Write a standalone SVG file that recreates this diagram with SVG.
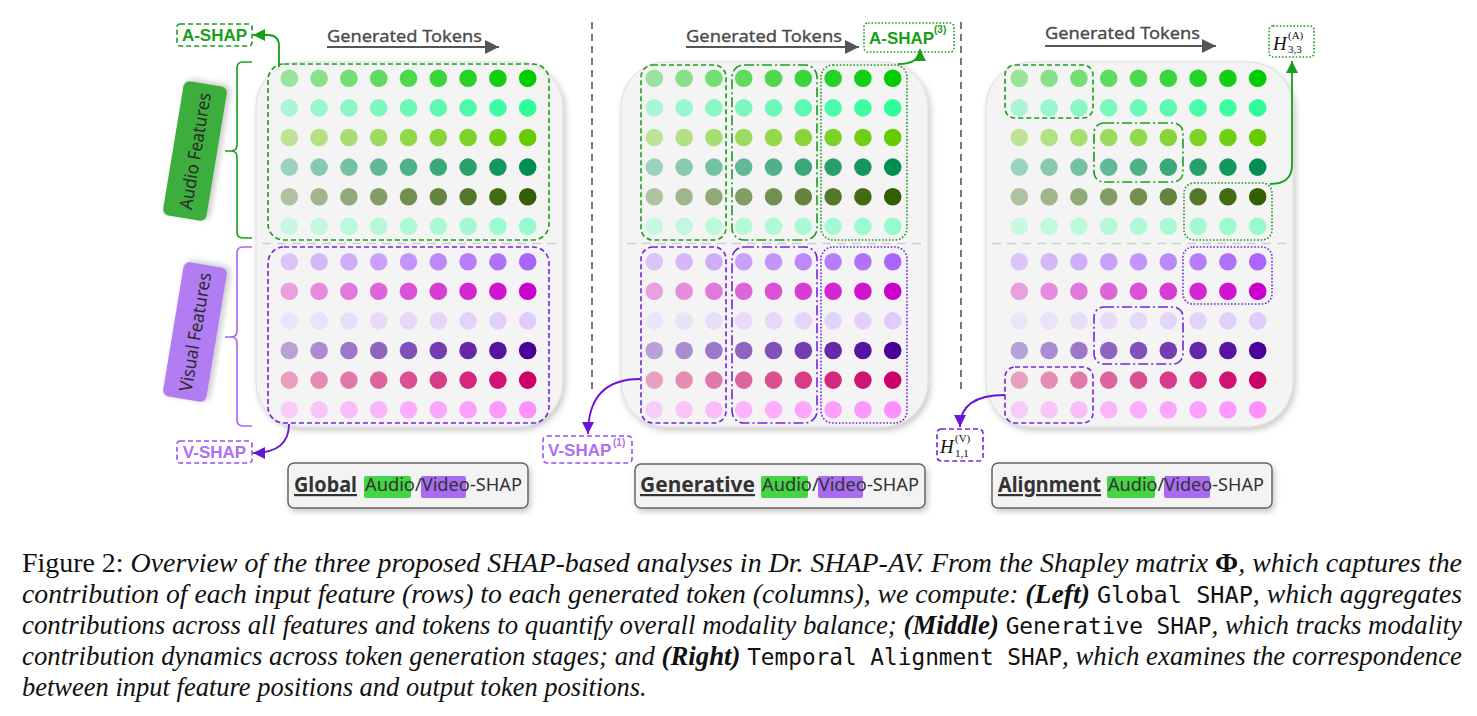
<svg xmlns="http://www.w3.org/2000/svg" xmlns:xlink="http://www.w3.org/1999/xlink" width="1477" height="716" viewBox="0 0 1477 716">
<style>
.bg{fill:#f4f4f4;stroke:#dcdcdc;stroke-width:1}
.sep{stroke:#cfcfcf;stroke-width:1.5;stroke-dasharray:9 6}
.vsep{stroke:#555;stroke-width:1.6;stroke-dasharray:7 5;fill:none}
.g{fill:none;stroke:#1a9e1a;stroke-width:1.6}
.p{fill:none;stroke:#7424e0;stroke-width:1.6}
.da{stroke-dasharray:5 3}
.dd{stroke-dasharray:10 3 2 3}
.dt{stroke-dasharray:1.6 1.8}
.gt{font-family:"Noto Sans","DejaVu Sans",sans-serif;font-size:17px;fill:#4a4a4a;stroke:#4a4a4a;stroke-width:0.3}
.tok{stroke:#555;stroke-width:2;fill:none}
.lblA{font-family:"Liberation Sans",Arial,sans-serif;font-weight:bold;font-size:17px;fill:#17a017}
.lblV{font-family:"Liberation Sans",Arial,sans-serif;font-weight:bold;font-size:17px;fill:#b070f0}
.supA{font-family:"Liberation Sans",Arial,sans-serif;font-weight:bold;font-size:10px;fill:#17a017}
.supV{font-family:"Liberation Sans",Arial,sans-serif;font-weight:bold;font-size:10px;fill:#b070f0}
.hm{font-family:"Liberation Serif","Times New Roman",serif;fill:#111}
.feat{font-family:"Noto Sans","DejaVu Sans",sans-serif;font-size:18px;fill:#2a2a2a}
.box{fill:#f3f3f3;stroke:#666;stroke-width:1.5}
.bt{font-family:"Noto Sans","DejaVu Sans",sans-serif;font-size:22px;font-weight:bold;fill:#333;text-decoration:underline}
.st{font-family:"Noto Sans","DejaVu Sans",sans-serif;font-size:18px;fill:#333}
.ga{fill:#44d444}
.va{fill:#a86cf2}
.cap{font-family:"Liberation Serif","Times New Roman",serif;font-size:26.5px;fill:#111}
.it{font-style:italic}
.bi{font-style:italic;font-weight:bold}
.b{font-weight:bold}
.mono{font-family:"DejaVu Sans Mono","Liberation Mono",monospace;font-size:22.5px}
.agr{fill:none;stroke:#17a017;stroke-width:1.8}
.apr{fill:none;stroke:#6a14d8;stroke-width:1.8}
.brg{fill:none;stroke:#1a9e1a;stroke-width:1.6}
.brp{fill:none;stroke:#a466f0;stroke-width:1.6}
</style>
<defs>
<filter id="sh" x="-10%" y="-10%" width="125%" height="125%"><feDropShadow dx="2" dy="3" stdDeviation="3" flood-color="#000" flood-opacity="0.22"/></filter>
<marker id="mg" markerWidth="12" markerHeight="12" refX="10" refY="5" orient="auto" markerUnits="userSpaceOnUse" viewBox="0 0 10 10"><path d="M0,0 L10,5 L0,10 z" fill="#17a017"/></marker>
<marker id="mp" markerWidth="12" markerHeight="12" refX="10" refY="5" orient="auto" markerUnits="userSpaceOnUse" viewBox="0 0 10 10"><path d="M0,0 L10,5 L0,10 z" fill="#6a14d8"/></marker>
<marker id="mk" markerWidth="14" markerHeight="14" refX="10" refY="5" orient="auto" markerUnits="userSpaceOnUse" viewBox="0 0 10 10"><path d="M0,0 L10,5 L0,10 z" fill="#555"/></marker>
<g id="mx">
<g transform="translate(0,78.3)"><circle cx="33.3" r="8.8" fill="#9be39b"/><circle cx="63.1" r="8.8" fill="#88e088"/><circle cx="92.9" r="8.8" fill="#74dd74"/><circle cx="122.7" r="8.8" fill="#61da61"/><circle cx="152.5" r="8.8" fill="#4ed84e"/><circle cx="182.3" r="8.8" fill="#3ad53a"/><circle cx="212.1" r="8.8" fill="#27d227"/><circle cx="241.9" r="8.8" fill="#13cf13"/><circle cx="271.7" r="8.8" fill="#00cc00"/></g>
<g transform="translate(0,107.9)"><circle cx="33.3" r="8.8" fill="#aaf5d5"/><circle cx="63.1" r="8.8" fill="#9af6ce"/><circle cx="92.9" r="8.8" fill="#8bf7c6"/><circle cx="122.7" r="8.8" fill="#7bf8bf"/><circle cx="152.5" r="8.8" fill="#6cf9b8"/><circle cx="182.3" r="8.8" fill="#5cfab0"/><circle cx="212.1" r="8.8" fill="#4cfba9"/><circle cx="241.9" r="8.8" fill="#3dfca1"/><circle cx="271.7" r="8.8" fill="#2dfd9a"/></g>
<g transform="translate(0,137.5)"><circle cx="33.3" r="8.8" fill="#bee396"/><circle cx="63.1" r="8.8" fill="#b3e083"/><circle cx="92.9" r="8.8" fill="#a8dd71"/><circle cx="122.7" r="8.8" fill="#9dda5e"/><circle cx="152.5" r="8.8" fill="#92d84b"/><circle cx="182.3" r="8.8" fill="#87d538"/><circle cx="212.1" r="8.8" fill="#7cd226"/><circle cx="241.9" r="8.8" fill="#71cf13"/><circle cx="271.7" r="8.8" fill="#66cc00"/></g>
<g transform="translate(0,167.1)"><circle cx="33.3" r="8.8" fill="#9bd2be"/><circle cx="63.1" r="8.8" fill="#88cab0"/><circle cx="92.9" r="8.8" fill="#74c1a3"/><circle cx="122.7" r="8.8" fill="#61b995"/><circle cx="152.5" r="8.8" fill="#4eb187"/><circle cx="182.3" r="8.8" fill="#3aa879"/><circle cx="212.1" r="8.8" fill="#27a06c"/><circle cx="241.9" r="8.8" fill="#13975e"/><circle cx="271.7" r="8.8" fill="#008f50"/></g>
<g transform="translate(0,196.7)"><circle cx="33.3" r="8.8" fill="#afc1a0"/><circle cx="63.1" r="8.8" fill="#a0b58c"/><circle cx="92.9" r="8.8" fill="#90a978"/><circle cx="122.7" r="8.8" fill="#819c64"/><circle cx="152.5" r="8.8" fill="#719050"/><circle cx="182.3" r="8.8" fill="#62843c"/><circle cx="212.1" r="8.8" fill="#527828"/><circle cx="241.9" r="8.8" fill="#436b14"/><circle cx="271.7" r="8.8" fill="#335f00"/></g>
<g transform="translate(0,226.3)"><circle cx="33.3" r="8.8" fill="#c8f8e0"/><circle cx="63.1" r="8.8" fill="#c2f8de"/><circle cx="92.9" r="8.8" fill="#bcf9db"/><circle cx="122.7" r="8.8" fill="#b5f9d9"/><circle cx="152.5" r="8.8" fill="#aff9d7"/><circle cx="182.3" r="8.8" fill="#a9f9d4"/><circle cx="212.1" r="8.8" fill="#a3fad2"/><circle cx="241.9" r="8.8" fill="#9cfacf"/><circle cx="271.7" r="8.8" fill="#96facd"/></g>
<g transform="translate(0,261.7)"><circle cx="33.3" r="8.8" fill="#dcc4f8"/><circle cx="63.1" r="8.8" fill="#d6b8f9"/><circle cx="92.9" r="8.8" fill="#d0adf9"/><circle cx="122.7" r="8.8" fill="#c9a1fa"/><circle cx="152.5" r="8.8" fill="#c395fa"/><circle cx="182.3" r="8.8" fill="#bd89fa"/><circle cx="212.1" r="8.8" fill="#b77efb"/><circle cx="241.9" r="8.8" fill="#b072fb"/><circle cx="271.7" r="8.8" fill="#aa66fc"/></g>
<g transform="translate(0,291.3)"><circle cx="33.3" r="8.8" fill="#e8a0e0"/><circle cx="63.1" r="8.8" fill="#e58cde"/><circle cx="92.9" r="8.8" fill="#e178db"/><circle cx="122.7" r="8.8" fill="#de64d9"/><circle cx="152.5" r="8.8" fill="#da50d6"/><circle cx="182.3" r="8.8" fill="#d73cd4"/><circle cx="212.1" r="8.8" fill="#d328d1"/><circle cx="241.9" r="8.8" fill="#d014cf"/><circle cx="271.7" r="8.8" fill="#cc00cc"/></g>
<g transform="translate(0,320.9)"><circle cx="33.3" r="8.8" fill="#ece4f8"/><circle cx="63.1" r="8.8" fill="#ebe1f9"/><circle cx="92.9" r="8.8" fill="#e9def9"/><circle cx="122.7" r="8.8" fill="#e8dbfa"/><circle cx="152.5" r="8.8" fill="#e6d8fa"/><circle cx="182.3" r="8.8" fill="#e5d5fa"/><circle cx="212.1" r="8.8" fill="#e3d2fb"/><circle cx="241.9" r="8.8" fill="#e2cffb"/><circle cx="271.7" r="8.8" fill="#e0ccfc"/></g>
<g transform="translate(0,350.5)"><circle cx="33.3" r="8.8" fill="#b8a0d8"/><circle cx="63.1" r="8.8" fill="#aa8cd0"/><circle cx="92.9" r="8.8" fill="#9d78c8"/><circle cx="122.7" r="8.8" fill="#8f64c0"/><circle cx="152.5" r="8.8" fill="#8150b8"/><circle cx="182.3" r="8.8" fill="#733cb0"/><circle cx="212.1" r="8.8" fill="#6628a8"/><circle cx="241.9" r="8.8" fill="#5814a0"/><circle cx="271.7" r="8.8" fill="#4a0098"/></g>
<g transform="translate(0,380.1)"><circle cx="33.3" r="8.8" fill="#e8a0c0"/><circle cx="63.1" r="8.8" fill="#e58cb5"/><circle cx="92.9" r="8.8" fill="#e178aa"/><circle cx="122.7" r="8.8" fill="#de649e"/><circle cx="152.5" r="8.8" fill="#da5093"/><circle cx="182.3" r="8.8" fill="#d73c88"/><circle cx="212.1" r="8.8" fill="#d3287d"/><circle cx="241.9" r="8.8" fill="#d01471"/><circle cx="271.7" r="8.8" fill="#cc0066"/></g>
<g transform="translate(0,409.7)"><circle cx="33.3" r="8.8" fill="#f8ccf8"/><circle cx="63.1" r="8.8" fill="#f9c5f9"/><circle cx="92.9" r="8.8" fill="#fabdfa"/><circle cx="122.7" r="8.8" fill="#fbb6fb"/><circle cx="152.5" r="8.8" fill="#fcaefc"/><circle cx="182.3" r="8.8" fill="#fca7fc"/><circle cx="212.1" r="8.8" fill="#fd9ffd"/><circle cx="241.9" r="8.8" fill="#fe98fe"/><circle cx="271.7" r="8.8" fill="#ff90ff"/></g>
</g>
<g id="pbg">
<rect class="bg" x="0" y="62" width="307" height="365" rx="45" filter="url(#sh)"/>
<line class="sep" x1="6" y1="243.5" x2="302" y2="243.5"/>
</g>
</defs>

<rect width="1477" height="716" fill="#fff"/>

<!-- separators -->
<line class="vsep" x1="592" y1="22" x2="592" y2="390"/>
<line class="vsep" x1="961" y1="22" x2="961" y2="390"/>

<!-- Left panel -->
<g id="panel-global">
<use href="#pbg" x="256"/>
<use href="#mx" x="256"/>
<rect class="g da" x="268" y="64" width="281" height="176" rx="16"/>
<rect class="p da" x="268" y="247" width="281" height="176" rx="16"/>
</g>

<g id="panel-generative">
<use href="#pbg" x="621"/>
<use href="#mx" x="621"/>
<rect class="g da" x="641" y="65" width="85" height="175" rx="12"/>
<rect class="g dd" x="732" y="65" width="85" height="175" rx="12"/>
<rect class="g dt" x="821" y="65" width="86" height="175" rx="12"/>
<rect class="p da" x="641" y="247" width="85" height="176" rx="12"/>
<rect class="p dd" x="732" y="247" width="85" height="176" rx="12"/>
<rect class="p dt" x="821" y="247" width="86" height="176" rx="12"/>
</g>

<g id="panel-alignment">
<use href="#pbg" x="986"/>
<use href="#mx" x="986"/>
<rect class="g da" x="1005" y="65" width="88" height="53" rx="10"/>
<rect class="g dd" x="1094" y="123" width="89" height="59" rx="10"/>
<rect class="g dt" x="1184" y="183" width="88" height="57" rx="10"/>
<rect class="p dt" x="1183" y="247" width="89" height="57" rx="10"/>
<rect class="p dd" x="1094" y="307" width="89" height="57" rx="10"/>
<rect class="p da" x="1005" y="367" width="88" height="56" rx="10"/>
</g>

<!-- Generated tokens labels -->
<g id="tokens-left">
<text class="gt" x="327" y="42" textLength="155" lengthAdjust="spacingAndGlyphs">Generated Tokens</text>
<line class="tok" x1="327" y1="47" x2="499" y2="47" marker-end="url(#mk)"/>
</g>
<g id="tokens-mid">
<text class="gt" x="686" y="42" textLength="156" lengthAdjust="spacingAndGlyphs">Generated Tokens</text>
<line class="tok" x1="686" y1="47" x2="859" y2="47" marker-end="url(#mk)"/>
</g>
<g id="tokens-right">
<text class="gt" x="1045" y="39" textLength="155" lengthAdjust="spacingAndGlyphs">Generated Tokens</text>
<line class="tok" x1="1045" y1="46" x2="1216" y2="46" marker-end="url(#mk)"/>
</g>

<!-- Feature labels and braces -->
<g id="audio-features">
<path class="brg" d="M252,62 H243 Q237,62 237,68 V145 Q237,151 231,151 H225 M231,151 Q237,151 237,157 V232 Q237,238 243,238 H252"/>
<g transform="translate(195,151) rotate(-80.6)">
<rect x="-68" y="-22" width="136" height="44" rx="6" fill="#3cae3c" filter="url(#sh)"/>
<text class="feat" x="0" y="6.5" text-anchor="middle" textLength="118" lengthAdjust="spacingAndGlyphs">Audio Features</text>
</g>
</g>
<g id="visual-features">
<path class="brp" d="M252,247 H243 Q237,247 237,253 V331 Q237,337 231,337 H225 M231,337 Q237,337 237,343 V420 Q237,426 243,426 H252"/>
<g transform="translate(195,332) rotate(-80.6)">
<rect x="-68" y="-22" width="136" height="44" rx="6" fill="#b27cf2" filter="url(#sh)"/>
<text class="feat" x="0" y="6.5" text-anchor="middle" textLength="120" lengthAdjust="spacingAndGlyphs">Visual Features</text>
</g>
</g>

<!-- SHAP labels -->
<g id="a-shap">
<rect class="g da" x="177" y="24" width="75" height="22" rx="3"/>
<text class="lblA" x="214.5" y="41" text-anchor="middle">A-SHAP</text>
</g>
<g id="v-shap">
<rect class="p da" x="177" y="441" width="75" height="22" rx="3" style="stroke:#9a50f0"/>
<text class="lblV" x="214.5" y="458" text-anchor="middle">V-SHAP</text>
</g>
<g id="a-shap-3">
<rect class="g dt" x="864" y="23" width="90" height="29" rx="4"/>
<text class="lblA" x="869" y="44">A-SHAP</text>
<text class="supA" x="934" y="33">(3)</text>
</g>
<g id="v-shap-1">
<rect class="p da" x="543" y="436" width="89" height="27" rx="4" style="stroke:#9a50f0"/>
<text class="lblV" x="548" y="456">V-SHAP</text>
<text class="supV" x="613" y="446">(1)</text>
</g>
<g id="h-a-33">
<rect class="g dt" x="1269" y="26" width="45" height="31" rx="4"/>
<text class="hm" x="1273" y="50" font-size="19" font-style="italic">H</text>
<text class="hm" x="1288" y="39" font-size="11">(A)</text>
<text class="hm" x="1288" y="53" font-size="11">3,3</text>
</g>
<g id="h-v-11">
<rect class="p da" x="937" y="429" width="46" height="32" rx="4"/>
<text class="hm" x="940" y="453" font-size="19" font-style="italic">H</text>
<text class="hm" x="955" y="442" font-size="11">(V)</text>
<text class="hm" x="955" y="457" font-size="11">1,1</text>
</g>

<!-- Bottom title boxes -->
<g id="title-global">
<rect class="box" x="288" y="463" width="240" height="45" rx="6" filter="url(#sh)"/>
<rect class="ga" x="364" y="476" width="47" height="22" rx="2"/>
<rect class="va" x="421" y="476" width="45" height="22" rx="2"/>
<text class="bt" x="294" y="492" textLength="63" lengthAdjust="spacingAndGlyphs">Global</text>
<text class="st" x="365" y="491" textLength="157" lengthAdjust="spacingAndGlyphs">Audio/Video-SHAP</text>
</g>
<g id="title-generative">
<rect class="box" x="635" y="464" width="290" height="44" rx="6" filter="url(#sh)"/>
<rect class="ga" x="761" y="476" width="47" height="22" rx="2"/>
<rect class="va" x="818" y="476" width="45" height="22" rx="2"/>
<text class="bt" x="640" y="492" textLength="115" lengthAdjust="spacingAndGlyphs">Generative</text>
<text class="st" x="762" y="491" textLength="157" lengthAdjust="spacingAndGlyphs">Audio/Video-SHAP</text>
</g>
<g id="title-alignment">
<rect class="box" x="992" y="463" width="280" height="45" rx="6" filter="url(#sh)"/>
<rect class="ga" x="1107" y="476" width="48" height="22" rx="2"/>
<rect class="va" x="1164" y="476" width="46" height="22" rx="2"/>
<text class="bt" x="998" y="492" textLength="103" lengthAdjust="spacingAndGlyphs">Alignment</text>
<text class="st" x="1108" y="491" textLength="156" lengthAdjust="spacingAndGlyphs">Audio/Video-SHAP</text>
</g>

<!-- Connectors -->
<g id="connectors">
<path class="agr" d="M279,67 V46 Q279,35 268,35 H253" marker-end="url(#mg)"/>
<path class="apr" d="M289,424 Q289,453 253,453" marker-end="url(#mp)"/>
<path class="agr" d="M898,64 Q920,64 920,49" marker-end="url(#mg)"/>
<path class="apr" d="M640,379 Q588,379 588,434" marker-end="url(#mp)"/>
<path class="agr" d="M1270,184 Q1292,184 1292,165 V61" marker-end="url(#mg)"/>
<path class="apr" d="M1005,395 Q960,395 960,427" marker-end="url(#mp)"/>
</g>

<!-- Caption -->
<g id="caption">
<text class="cap" x="22" y="572" textLength="1440" lengthAdjust="spacingAndGlyphs">Figure 2: <tspan class="it">Overview of the three proposed SHAP-based analyses in Dr. SHAP-AV. From the Shapley matrix </tspan><tspan class="b">Φ</tspan><tspan class="it">, which captures the</tspan></text>
<text class="cap" x="22" y="603" textLength="1440" lengthAdjust="spacingAndGlyphs"><tspan class="it">contribution of each input feature (rows) to each generated token (columns), we compute: </tspan><tspan class="bi">(Left)</tspan> <tspan class="mono">Global SHAP</tspan><tspan class="it">, which aggregates</tspan></text>
<text class="cap" x="22" y="634" textLength="1440" lengthAdjust="spacingAndGlyphs"><tspan class="it">contributions across all features and tokens to quantify overall modality balance; </tspan><tspan class="bi">(Middle)</tspan> <tspan class="mono">Generative SHAP</tspan><tspan class="it">, which tracks modality</tspan></text>
<text class="cap" x="22" y="665" textLength="1440" lengthAdjust="spacingAndGlyphs"><tspan class="it">contribution dynamics across token generation stages; and </tspan><tspan class="bi">(Right)</tspan> <tspan class="mono">Temporal Alignment SHAP</tspan><tspan class="it">, which examines the correspondence</tspan></text>
<text class="cap it" x="22" y="696">between input feature positions and output token positions.</text>
</g>
</svg>
